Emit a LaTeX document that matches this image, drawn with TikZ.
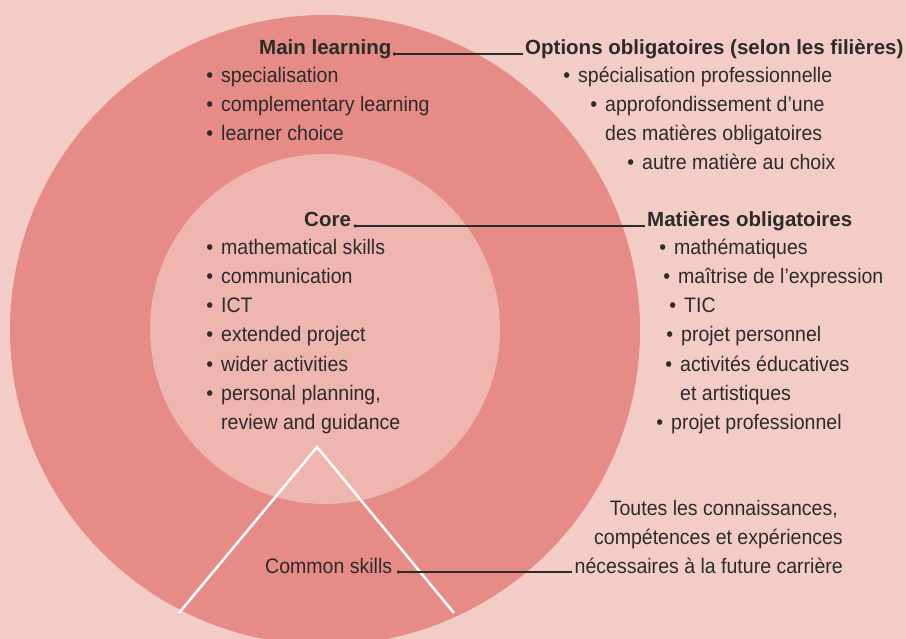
\documentclass[tikz,border=0pt]{standalone}
\usepackage{fontspec}
\setmainfont{Liberation Sans}[FakeStretch=0.93,BoldFeatures={FakeStretch=1.0}]
\definecolor{bgpink}{HTML}{F4CCC6}
\definecolor{ringred}{HTML}{E68B86}
\definecolor{corepink}{HTML}{EFB5AF}
\definecolor{ink}{HTML}{2B2B2B}
\newcommand{\bul}{\llap{\textbullet\hspace{8pt}}}
\begin{document}
\begin{tikzpicture}[x=1pt,y=-1pt,
  txt/.style={inner sep=0pt,anchor=base west,text=ink,font=\fontsize{21}{24}\selectfont},
  head/.style={txt,font=\fontsize{20.5}{24}\selectfont\bfseries},
  leader/.style={draw=ink,line width=1.2pt},
  leaderdot/.style={fill=ink}]
\useasboundingbox[fill=bgpink] (0,0) rectangle (906,639);
% rings
\fill[ringred] (325,330) circle (315pt);
\fill[corepink] (325,329) circle (175pt);
\draw[white,line width=2.5pt] (179,613) -- (317,447) -- (454,613);
% left side
\node[head] (main) at (259,55) {Main learning};
\foreach \t [count=\i] in {specialisation, complementary learning, learner choice}
  \node[txt] (ml\i) at (221,54+29*\i) {\bul\t};
\node[head] (core) at (304,227) {Core};
\foreach \t [count=\i] in {mathematical skills, communication, ICT, extended project, wider activities, {personal planning,}}
  \node[txt] (cl\i) at (221,226+29*\i) {\bul\t};
\node[txt] (cl7) at (221,429) {review and guidance};
\node[txt] (common) at (265,573) {Common skills};
% right side
\node[head] (opt) at (525,55) {Options obligatoires (selon les filières)};
\node[txt] (op1) at (578,83) {\bul spécialisation professionnelle};
\node[txt] (op2) at (605,112) {\bul approfondissement d’une};
\node[txt] (op3) at (605,141) {des matières obligatoires};
\node[txt] (op4) at (642,170) {\bul autre matière au choix};
\node[head] (mat) at (647,227) {Matières obligatoires};
\node[txt] (mo1) at (674,255) {\bul mathématiques};
\node[txt] (mo2) at (678,284) {\bul maîtrise de l’expression};
\node[txt] (mo3) at (684,313) {\bul TIC};
\node[txt] (mo4) at (681,342) {\bul projet personnel};
\node[txt] (mo5) at (680,371) {\bul activités éducatives};
\node[txt] (mo6) at (680,400) {et artistiques};
\node[txt] (mo7) at (671,429) {\bul projet professionnel};
\node[txt,anchor=base east] (fut1) at (838,515) {Toutes les connaissances,};
\node[txt,anchor=base east] (fut2) at (843,544) {compétences et expériences};
\node[txt,anchor=base east] (fut3) at (843,573) {nécessaires à la future carrière};
% leaders
\draw[leader] ([xshift=3pt,yshift=1pt]main.base east) -- ([xshift=-2pt,yshift=1pt]opt.base west);
\fill[leaderdot] ([xshift=3pt,yshift=1pt]main.base east) circle (1.8pt);
\draw[leader] ([xshift=4pt,yshift=1pt]core.base east) -- ([xshift=-2pt,yshift=1pt]mat.base west);
\fill[leaderdot] ([xshift=4pt,yshift=1pt]core.base east) circle (1.8pt);
\draw[leader] ([xshift=6pt,yshift=1pt]common.base east) -- ([xshift=-2pt,yshift=1pt]fut3.base west);
\fill[leaderdot] ([xshift=6pt,yshift=1pt]common.base east) circle (1.8pt);
\end{tikzpicture}
\end{document}
